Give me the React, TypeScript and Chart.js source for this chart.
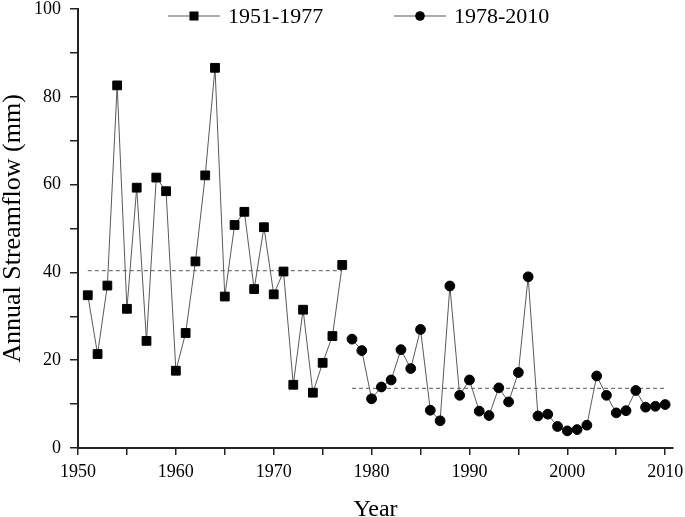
import React, { useEffect, useRef } from 'react';
import { Chart, registerables } from 'chart.js';

Chart.register(...registerables);

// Period 1951-1977
const years1 = [1951, 1952, 1953, 1954, 1955, 1956, 1957, 1958, 1959, 1960, 1961, 1962, 1963, 1964, 1965, 1966, 1967, 1968, 1969, 1970, 1971, 1972, 1973, 1974, 1975, 1976, 1977];
const flow1 = [34.8, 21.4, 37.0, 82.6, 31.7, 59.3, 24.4, 61.6, 58.5, 17.6, 26.2, 42.5, 62.1, 86.6, 34.5, 50.8, 53.8, 36.2, 50.3, 35.0, 40.2, 14.4, 31.5, 12.6, 19.4, 25.5, 41.7];

// Period 1978-2010
const years2 = [1978, 1979, 1980, 1981, 1982, 1983, 1984, 1985, 1986, 1987, 1988, 1989, 1990, 1991, 1992, 1993, 1994, 1995, 1996, 1997, 1998, 1999, 2000, 2001, 2002, 2003, 2004, 2005, 2006, 2007, 2008, 2009, 2010];
const flow2 = [24.8, 22.2, 11.2, 13.9, 15.5, 22.4, 18.1, 27.0, 8.6, 6.2, 36.9, 12.0, 15.5, 8.4, 7.4, 13.7, 10.5, 17.2, 39.0, 7.3, 7.7, 4.9, 3.9, 4.2, 5.2, 16.4, 12.0, 8.0, 8.5, 13.1, 9.3, 9.5, 9.9];

// Period means (dashed lines)
const mean1 = 40.4;
const mean2 = 13.6;

const seriesLabels = ['1951-1977', '1978-2010'];

const FONT = '"Liberation Serif", "Times New Roman", serif';
const LINE_COLOR = '#5a5a5a';
const INK = '#000';

const legendPlugin = {
  id: 'lineMarkerLegend',
  afterDraw(chart: any) {
    const ctx = chart.ctx as CanvasRenderingContext2D;
    const items = [
      { x0: 168, label: chart.data.datasets[0].label, style: 'rect' },
      { x0: 394, label: chart.data.datasets[1].label, style: 'circle' },
    ];
    const y = 16;
    ctx.save();
    for (const it of items) {
      ctx.strokeStyle = LINE_COLOR;
      ctx.lineWidth = 1.2;
      ctx.beginPath();
      ctx.moveTo(it.x0, y);
      ctx.lineTo(it.x0 + 52, y);
      ctx.stroke();
      const cx = it.x0 + 26;
      ctx.fillStyle = '#000';
      if (it.style === 'rect') {
        ctx.fillRect(cx - 4.5, y - 4.5, 9, 9);
      } else {
        ctx.beginPath();
        ctx.arc(cx, y, 4.8, 0, Math.PI * 2);
        ctx.fill();
      }
      ctx.fillStyle = INK;
      ctx.font = `22px ${FONT}`;
      ctx.textBaseline = 'middle';
      ctx.textAlign = 'left';
      ctx.fillText(it.label, it.x0 + 60, y + 1);
    }
    ctx.restore();
  },
};

export default function App() {
  const ref = useRef<HTMLCanvasElement>(null);

  useEffect(() => {
    document.body.style.margin = '0';
    const canvas = ref.current!;
    const chart = new Chart(canvas, {
      type: 'line',
      data: {
        datasets: [
          {
            label: seriesLabels[0],
            data: years1.map((yr, i) => ({ x: yr, y: flow1[i] })),
            borderColor: LINE_COLOR,
            borderWidth: 1,
            pointStyle: 'rect',
            pointRadius: 6.2,
            pointBackgroundColor: '#000',
            pointBorderColor: '#000',
            pointBorderWidth: 1,
            tension: 0,
          },
          {
            label: seriesLabels[1],
            data: years2.map((yr, i) => ({ x: yr, y: flow2[i] })),
            borderColor: LINE_COLOR,
            borderWidth: 1,
            pointStyle: 'circle',
            pointRadius: 4.9,
            pointBackgroundColor: '#000',
            pointBorderColor: '#000',
            pointBorderWidth: 1,
            tension: 0,
          },
          {
            label: 'mean1',
            data: [
              { x: years1[0], y: mean1 },
              { x: years1[years1.length - 1], y: mean1 },
            ],
            borderColor: '#777',
            borderWidth: 1.2,
            borderDash: [4, 3],
            pointRadius: 0,
          },
          {
            label: 'mean2',
            data: [
              { x: years2[0], y: mean2 },
              { x: years2[years2.length - 1], y: mean2 },
            ],
            borderColor: '#777',
            borderWidth: 1.2,
            borderDash: [4, 3],
            pointRadius: 0,
          },
        ],
      },
      options: {
        animation: false,
        responsive: false,
        devicePixelRatio: 1,
        layout: { padding: { top: 9, right: 12, left: 0, bottom: 0 } },
        plugins: {
          legend: { display: false },
          tooltip: { enabled: false },
        },
        scales: {
          x: {
            type: 'linear',
            min: 1950,
            max: 2010.8,
            afterFit: (s: any) => {
              s.height = 69;
              s.paddingLeft = 0;
              s.paddingRight = 0;
            },
            border: { display: true, color: '#222', width: 2 },
            grid: {
              display: true,
              drawOnChartArea: false,
              drawTicks: true,
              tickLength: 7,
              color: '#222',
              lineWidth: 1.5,
            },
            ticks: {
              stepSize: 5,
              includeBounds: false,
              autoSkip: false,
              maxRotation: 0,
              padding: 6,
              color: INK,
              font: { family: FONT, size: 18 },
              callback: (v: any) => (Number(v) % 10 === 0 ? String(v) : ''),
            },
            title: {
              display: true,
              text: 'Year',
              color: INK,
              font: { family: FONT, size: 24, lineHeight: 1 },
              padding: { top: 0, bottom: -5 },
            },
          },
          y: {
            type: 'linear',
            min: 0,
            max: 100,
            afterFit: (s: any) => {
              s.width = 78;
              s.paddingTop = 0;
              s.paddingBottom = 0;
            },
            border: { display: true, color: '#222', width: 2 },
            grid: {
              display: true,
              drawOnChartArea: false,
              drawTicks: true,
              tickLength: 8,
              color: '#222',
              lineWidth: 1.5,
            },
            ticks: {
              stepSize: 10,
              autoSkip: false,
              padding: 9,
              color: INK,
              font: { family: FONT, size: 18 },
              callback: (v: any) => (Number(v) % 20 === 0 ? String(v) : ''),
            },
            title: {
              display: true,
              text: 'Annual Streamflow (mm)',
              color: INK,
              font: { family: FONT, size: 26, lineHeight: 1 },
              padding: { top: 0, bottom: 0 },
            },
          },
        },
      },
      plugins: [legendPlugin],
    });
    return () => chart.destroy();
  }, []);

  return (
    <div style={{ width: 685, height: 517 }}>
      <canvas ref={ref} width={685} height={517} style={{ display: 'block' }} />
    </div>
  );
}
